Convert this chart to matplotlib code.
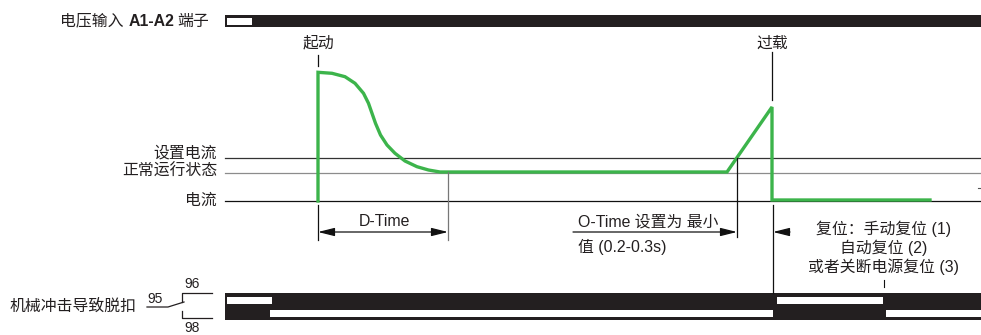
import matplotlib
matplotlib.use("Agg")
import matplotlib.pyplot as plt
from matplotlib.patches import Rectangle

# 图上的坐标按像素读取 (x 向右, y 向下)
# 电流曲线: 起动 -> 衰减到正常运行 -> 过载上升 -> 脱扣
curve_x = [318, 318, 332, 345, 355, 363.5, 368.5, 372, 375.5, 380.5, 387, 395, 405,
           417, 428.5, 440, 727, 772, 772, 930]
curve_y = [201, 72.3, 73.3, 76.7, 83.3, 93.3, 103.3, 113.3, 123.3, 135, 145, 153.3, 161,
           166.7, 170, 172, 172, 107, 200, 200]

# 水平参考线 (名称, y, 标签 y, 颜色)
level_names = ["设置电流", "正常运行状态", "电流"]
level_y = [158, 172.5, 201]
label_y = [154, 172.5, 201]
level_colors = ["#333333", "#8c8c8c", "#111111"]

# 时刻
t_start = 318
t_dtime = 448
t_otime = 737
t_trip = 773
t_reset = 884

# 电压输入条: 白色段 (起, 止)
supply_white = [(227, 252)]
# 触点条: 95-96 白色段 / 95-98 白色段
nc_white = [(227, 272), (777, 883)]
no_white = [(270, 773), (886, 981)]

reset_lines = ["复位：手动复位 (1)", "自动复位 (2)", "或者关断电源复位 (3)"]

FONT = ["Liberation Sans", "Noto Sans CJK SC", "DejaVu Sans"]
FS = 11.4
GREEN = "#3cb44b"

fig = plt.figure(figsize=(9.81, 3.35), dpi=100)
ax = fig.add_axes([0, 0, 1, 1])
ax.set_xlim(0, 981)
ax.set_ylim(335, 0)
ax.axis("off")


def txt(x, y, s, ha="left", weight="normal", size=FS):
    ax.text(x, y, s, ha=ha, va="center", family=FONT, fontsize=size,
            weight=weight, color="#231f20")


# 电压输入 A1-A2 端子
txt(60, 21, "电压输入")
txt(152, 21, "A1-A2", ha="center", weight="bold")
txt(209, 21, "端子", ha="right")
ax.add_patch(Rectangle((225, 15), 756, 12, color="#231f20", lw=0))
for a, b in supply_white:
    ax.add_patch(Rectangle((a, 18), b - a, 7, color="white", lw=0))

# 参考线
for name, y, ly, c in zip(level_names, level_y, label_y, level_colors):
    ax.plot([225, 981], [y, y], color=c, lw=0.9)
    txt(217, ly - 1, name, ha="right")

# 曲线
ax.plot(curve_x, curve_y, color=GREEN, lw=2.4, solid_joinstyle="miter")

# 起动 / 过载 标注
txt(t_start, 43, "起动", ha="center")
ax.plot([t_start, t_start], [55, 66], color="#111111", lw=0.9)
txt(772, 43, "过载", ha="center")
ax.plot([772, 772], [52, 100], color="#111111", lw=0.9)

# 竖线
ax.plot([t_start, t_start], [205, 240], color="#111111", lw=0.9)
ax.plot([t_dtime, t_dtime], [172, 240], color="#777777", lw=0.9)
ax.plot([t_otime, t_otime], [158, 237], color="#111111", lw=0.9)
ax.plot([t_trip, t_trip], [205, 293], color="#111111", lw=0.9)
ax.plot([t_reset, t_reset], [280, 287], color="#111111", lw=0.8)
ax.plot([978, 981], [188, 188], color="#555555", lw=0.8)

# D-Time
ax.annotate("", xy=(t_start, 232), xytext=(t_dtime, 232),
            arrowprops=dict(arrowstyle="<|-|>,head_length=1.0,head_width=0.25",
                            color="#111111", lw=0.9, shrinkA=0, shrinkB=0))
txt(384, 222, "D-Time", ha="center")

# O-Time
ax.annotate("", xy=(t_otime, 232), xytext=(573, 232),
            arrowprops=dict(arrowstyle="-|>,head_length=1.0,head_width=0.25",
                            color="#111111", lw=0.9, shrinkA=0, shrinkB=0))
ax.annotate("", xy=(t_trip, 232), xytext=(790, 232),
            arrowprops=dict(arrowstyle="-|>,head_length=1.0,head_width=0.25",
                            color="#111111", lw=0.9, shrinkA=0, shrinkB=0))
txt(578, 222, "O-Time 设置为 最小")
txt(578, 247, "值 (0.2-0.3s)")

for i, s in enumerate(reset_lines):
    txt(t_reset, 229 + i * 19, s, ha="center")

# 机械冲击导致脱扣
txt(137, 306, "机械冲击导致脱扣", ha="right")
txt(155, 299, "95", ha="center", size=10)
txt(192, 284, "96", ha="center", size=10)
txt(192, 328, "98", ha="center", size=10)
ax.plot([147, 168, 184], [307, 307, 302], color="#231f20", lw=0.9)
ax.plot([212, 182, 182], [293, 293, 302], color="#231f20", lw=0.9)
ax.plot([182, 182, 212], [311, 318, 318], color="#231f20", lw=0.9)

ax.add_patch(Rectangle((225, 293), 756, 27, color="#231f20", lw=0))
for a, b in nc_white:
    ax.add_patch(Rectangle((a, 297), b - a, 7, color="white", lw=0))
for a, b in no_white:
    ax.add_patch(Rectangle((a, 310), b - a, 7, color="white", lw=0))

fig.savefig("out.png", dpi=100)
